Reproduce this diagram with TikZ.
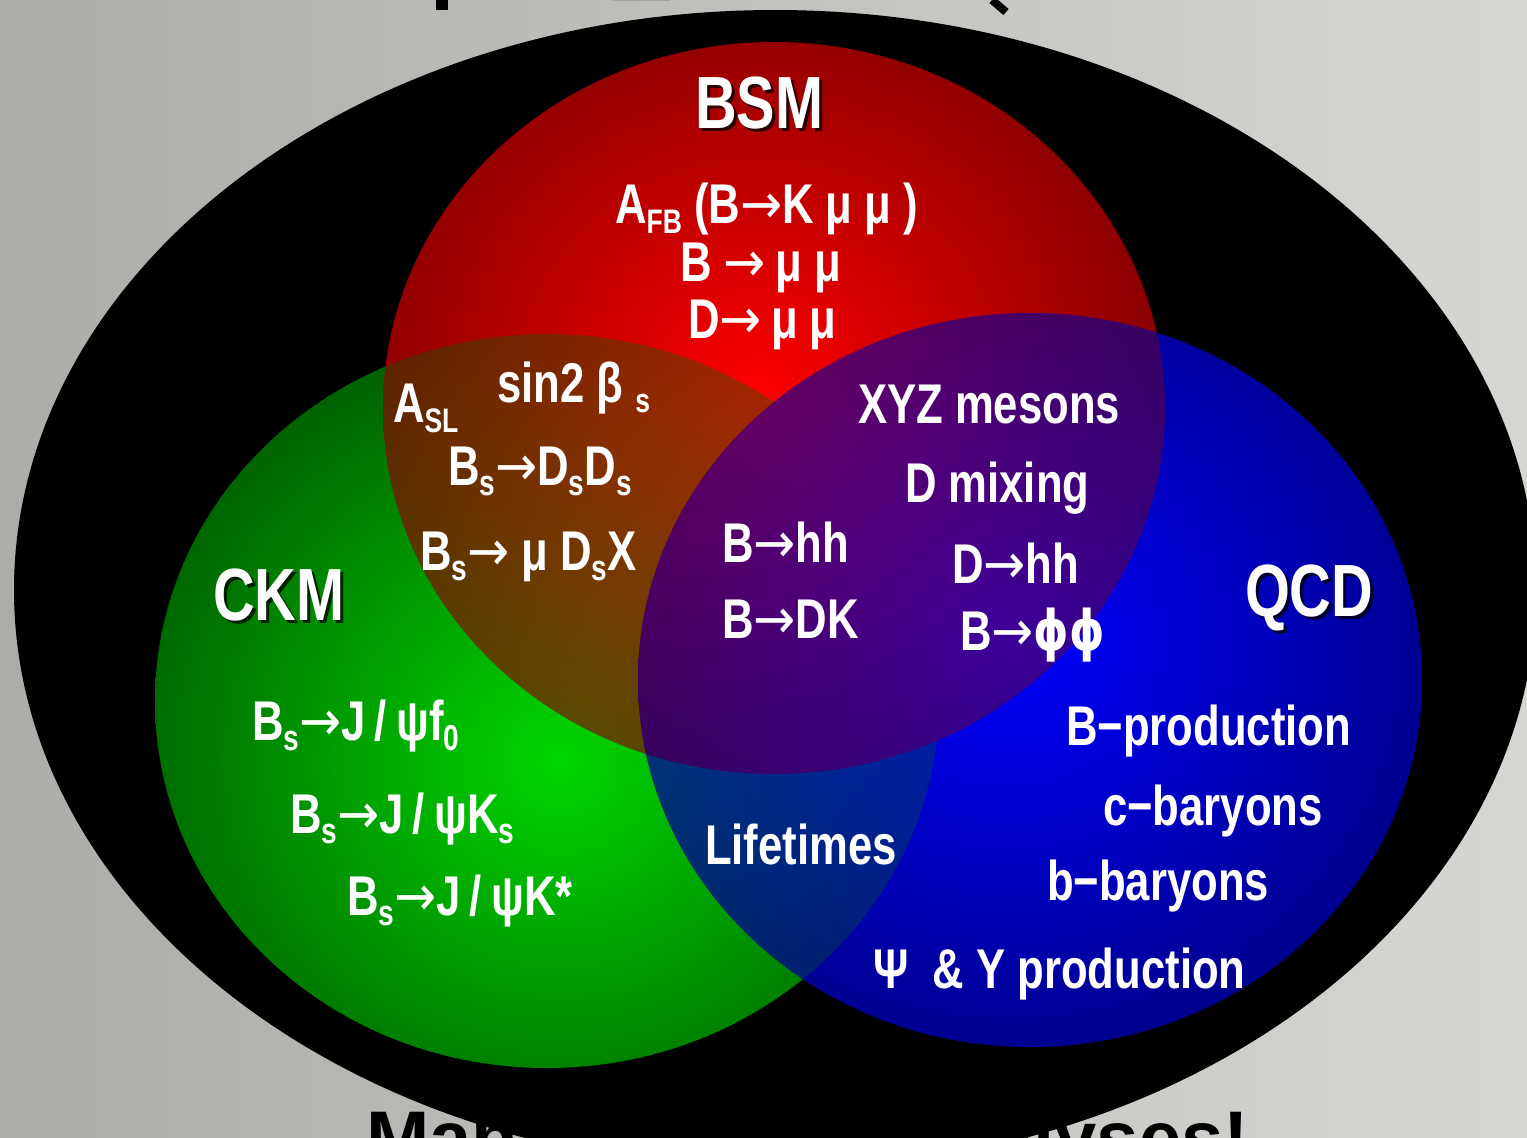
\documentclass[tikz,border=0pt]{standalone}
\usepackage{fontspec}
\setmainfont{Liberation Sans}[FakeStretch=0.78]
\newfontfamily\widesans{Liberation Sans}
\newfontfamily\symfont{DejaVu Sans}[FakeStretch=0.9]
\newfontfamily\greekfont{DejaVu Sans}[FakeStretch=0.8]
\usetikzlibrary{calc}

% colours
\definecolor{bgleft}{RGB}{172,172,168}
\definecolor{bgright}{RGB}{214,214,210}
\definecolor{redhi}{RGB}{255,0,0}
\definecolor{redlo}{RGB}{125,0,0}
\definecolor{greenhi}{RGB}{0,215,0}
\definecolor{greenlo}{RGB}{0,92,0}
\definecolor{bluehi}{RGB}{0,0,255}
\definecolor{bluelo}{RGB}{0,0,135}

% subscript, arrow and phi helpers
\newcommand{\sbs}[2][18]{\raisebox{-5pt}{\fontsize{#1}{#1}\selectfont #2}}
\newcommand{\arr}{{\symfont\mdseries →}}
\newcommand{\phisym}{{\greekfont ϕ}}

\tikzset{
  lbl/.style={text=white, anchor=base west, inner sep=0pt, outer sep=0pt,
              font=\bfseries\fontsize{28}{30}\selectfont},
  biglbl/.style={lbl, font=\bfseries\fontsize{37}{40}\selectfont},
  bigshadow/.style={biglbl, text=black, text opacity=0.75},
  redset/.style={inner color=redhi, outer color=redlo},
  greenset/.style={inner color=greenhi, outer color=greenlo},
  blueset/.style={inner color=bluehi, outer color=bluelo},
}

\begin{document}
\begin{tikzpicture}[x=0.5pt,y=-0.5pt]
\useasboundingbox (0,0) rectangle (1527,1137);

% grey backdrop
\shade[left color=bgleft, right color=bgright] (0,0) rectangle (1527,1137);

% descenders of the heading above the frame
\fill[black] (436,0) rectangle (448,10);
\fill[black] (612,0) arc[start angle=180, end angle=360, x radius=29, y radius=8] -- cycle;
\draw[black, line width=4pt] (992,0) -- (1006,12);

% large black ellipse
\fill[black] (775,590) ellipse [x radius=761, y radius=580];

% green set
\begin{scope}
  \clip (547,701) ellipse [x radius=392, y radius=367];
  \shade[greenset] (560,760) ellipse [x radius=470, y radius=450];
\end{scope}

% red set
\begin{scope}
  \clip (774,408) ellipse [x radius=391, y radius=366];
  \shade[redset] (760,390) ellipse [x radius=450, y radius=430];
\end{scope}

% red and green overlap
\begin{scope}
  \clip (774,408) ellipse [x radius=391, y radius=366];
  \clip (547,701) ellipse [x radius=392, y radius=367];
  \shade[greenset, opacity=0.36] (560,760) ellipse [x radius=470, y radius=450];
\end{scope}

% blue set
\begin{scope}
  \clip (1030,680) ellipse [x radius=392, y radius=367];
  \shade[blueset] (1010,640) ellipse [x radius=460, y radius=440];
\end{scope}

% blue overlaps
\begin{scope}
  \clip (1030,680) ellipse [x radius=392, y radius=367];
  \begin{scope}
    \clip (774,408) ellipse [x radius=391, y radius=366];
    \shade[redset, opacity=0.4] (760,390) ellipse [x radius=450, y radius=430];
  \end{scope}
  \begin{scope}[even odd rule]
    \clip (547,701) ellipse [x radius=392, y radius=367];
    \clip (0,0) rectangle (1527,1137)
          (774,408) ellipse [x radius=391, y radius=366];
    \shade[greenset, opacity=0.26] (560,760) ellipse [x radius=470, y radius=450];
  \end{scope}
\end{scope}

% set titles
\node[bigshadow] (bsm-sh) at (698,131) {BSM};
\node[biglbl]    (bsm)    at (695,128) {BSM};
\node[bigshadow] (ckm-sh) at (216,623) {CKM};
\node[biglbl]    (ckm)    at (213,620) {CKM};
\node[bigshadow] (qcd-sh) at (1248,619) {QCD};
\node[biglbl]    (qcd)    at (1245,616) {QCD};

% BSM entries
\node[lbl] (afb)   at (615,223) {A\sbs[17]{FB} (B\arr K μ μ )};
\node[lbl] (bmumu) at (680,281) {B \arr\,μ μ};
\node[lbl] (dmumu) at (688,338) {D\arr\,μ μ};

% red and green overlap entries
\node[lbl] (asl)   at (393,422) {A\sbs[17]{SL}};
\node[lbl] (s2b)   at (497,402) {sin2 β \sbs[17]{s}};
\node[lbl] (bsdd)  at (448,485) {B\sbs{s}\arr D\sbs{s}D\sbs{s}};
\node[lbl] (bsmu)  at (420,570) {B\sbs{s}\arr{} μ D\sbs{s}X};

% red and blue overlap entries
\node[lbl] (xyz)   at (858,423) {XYZ mesons};
\node[lbl] (dmix)  at (905,502) {D mixing};
\node[lbl] (bhh)   at (722,562) {B\arr hh};
\node[lbl] (bdk)   at (722,638) {B\arr DK};
\node[lbl] (dhh)   at (952,583) {D\arr hh};
\node[lbl] (bpp)   at (960,650) {B\arr\phisym\phisym};

% CKM entries
\node[lbl] (bsf0)  at (252,740) {B\sbs{s}\arr J\,/\,ψf\sbs{0}};
\node[lbl] (bsks)  at (290,833) {B\sbs{s}\arr J\,/\,ψK\sbs{s}};
\node[lbl] (bskst) at (347,915) {B\sbs{s}\arr J\,/\,ψK*};

% green and blue overlap
\node[lbl] (life)  at (705,864) {Lifetimes};

% QCD entries
\node[lbl] (bprod) at (1066,745) {B−production};
\node[lbl] (cbar)  at (1103,825) {c−baryons};
\node[lbl] (bbar)  at (1047,900) {b−baryons};
\node[lbl] (onia)  at (873,988) {Ψ\ \ \& Υ production};

% closing remark below the frame
\node[anchor=base west, inner sep=0pt, text=black,
      font=\widesans\bfseries\fontsize{38}{40}\selectfont] (remark) at (366,1164) {Many ongoing analyses!};
\end{tikzpicture}
\end{document}
